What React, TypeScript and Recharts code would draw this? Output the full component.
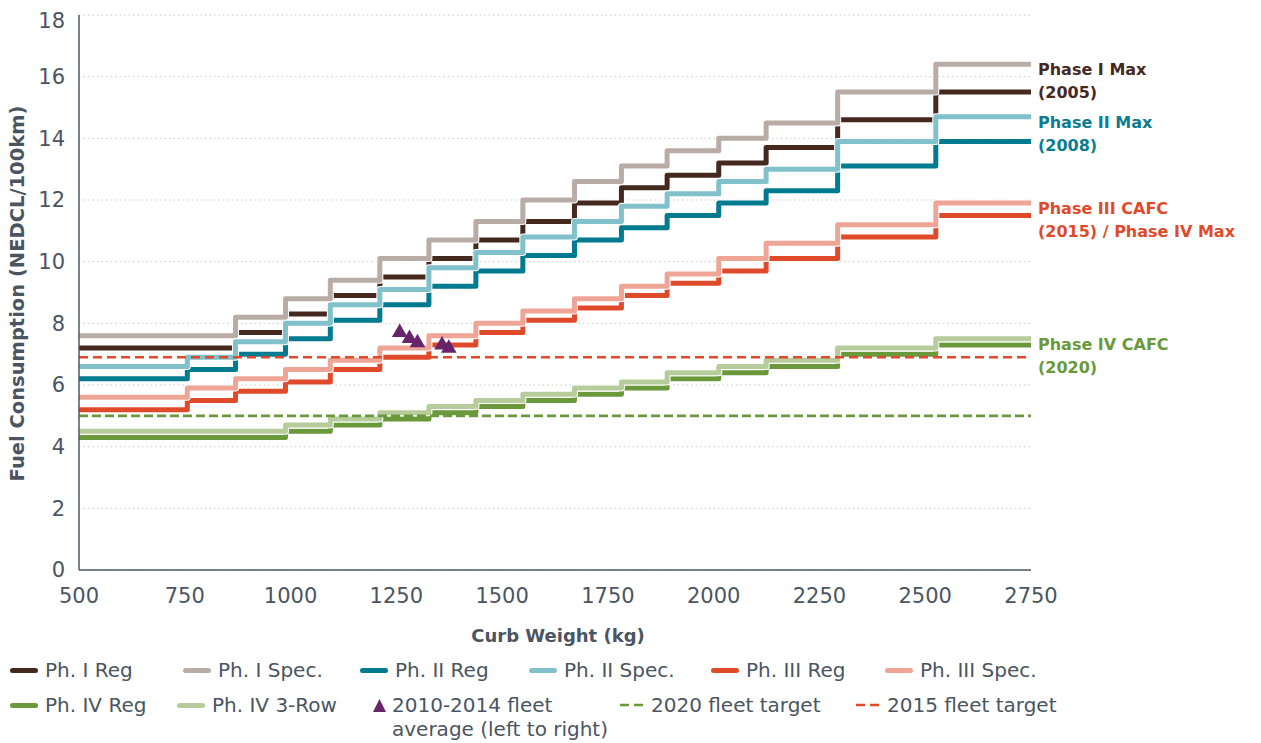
import React from "react";
import {
  ComposedChart,
  Line,
  Scatter,
  XAxis,
  YAxis,
  ZAxis,
  CartesianGrid,
  ReferenceLine,
  ReferenceDot,
  Label,
} from "recharts";

// weight class boundaries (kg); last entry closes the final step
const WEIGHT_BREAKS = [500, 756, 870, 988, 1094, 1211, 1327, 1438, 1549, 1671, 1782, 1890, 2012, 2124, 2293, 2525, 2750];

// L/100km per weight class
const P1_REG = [7.2, 7.2, 7.7, 8.3, 8.9, 9.5, 10.1, 10.7, 11.3, 11.9, 12.4, 12.8, 13.2, 13.7, 14.6, 15.5];
const P1_SPEC = [7.6, 7.6, 8.2, 8.8, 9.4, 10.1, 10.7, 11.3, 12.0, 12.6, 13.1, 13.6, 14.0, 14.5, 15.5, 16.4];
const P2_REG = [6.2, 6.5, 7.0, 7.5, 8.1, 8.6, 9.2, 9.7, 10.2, 10.7, 11.1, 11.5, 11.9, 12.3, 13.1, 13.9];
const P2_SPEC = [6.6, 6.9, 7.4, 8.0, 8.6, 9.1, 9.8, 10.3, 10.8, 11.3, 11.8, 12.2, 12.6, 13.0, 13.9, 14.7];
const P3_REG = [5.2, 5.5, 5.8, 6.1, 6.5, 6.9, 7.3, 7.7, 8.1, 8.5, 8.9, 9.3, 9.7, 10.1, 10.8, 11.5];
const P3_SPEC = [5.6, 5.9, 6.2, 6.5, 6.8, 7.2, 7.6, 8.0, 8.4, 8.8, 9.2, 9.6, 10.1, 10.6, 11.2, 11.9];
const P4_REG = [4.3, 4.3, 4.3, 4.5, 4.7, 4.9, 5.1, 5.3, 5.5, 5.7, 5.9, 6.2, 6.4, 6.6, 7.0, 7.3];
const P4_SPEC = [4.5, 4.5, 4.5, 4.7, 4.9, 5.1, 5.3, 5.5, 5.7, 5.9, 6.1, 6.4, 6.6, 6.8, 7.2, 7.5];

// 2010-2014 fleet averages, left to right
const FLEET_WEIGHT = [1258, 1281, 1300, 1358, 1374];
const FLEET_FC = [7.7, 7.51, 7.37, 7.3, 7.19];

const TARGET_2020 = 5.0;
const TARGET_2015 = 6.9;

const X_TICKS = [500, 750, 1000, 1250, 1500, 1750, 2000, 2250, 2500, 2750];
const Y_TICKS = [0, 2, 4, 6, 8, 10, 12, 14, 16, 18];

const FONT = "'DejaVu Sans', 'Open Sans', sans-serif";
const TEXT = "#4a5561";
const AXIS = "#4d5863";

const C = {
  p1r: "#45291e",
  p1s: "#b9aca6",
  p2r: "#007b8f",
  p2s: "#80c1cc",
  p3r: "#df4b2a",
  p3s: "#eea595",
  p4r: "#6a993b",
  p4s: "#b6cd9b",
  fleet: "#672469",
};

const SERIES = [
  { key: "p1r", values: P1_REG },
  { key: "p1s", values: P1_SPEC },
  { key: "p2r", values: P2_REG },
  { key: "p2s", values: P2_SPEC },
  { key: "p3r", values: P3_REG },
  { key: "p3s", values: P3_SPEC },
  { key: "p4r", values: P4_REG },
  { key: "p4s", values: P4_SPEC },
];

const table = WEIGHT_BREAKS.map((w, i) => {
  const row: any = { w };
  SERIES.forEach((s) => {
    row[s.key] = s.values[Math.min(i, s.values.length - 1)];
  });
  return row;
});

const fleet = FLEET_WEIGHT.map((w, i) => ({ w, fc: FLEET_FC[i] }));

const last = (a: number[]) => a[a.length - 1];
const X_MAX = last(X_TICKS);

const SIDE_LABELS = [
  { y: last(P1_SPEC), lines: ["Phase I Max", "(2005)"], color: C.p1r },
  { y: last(P2_SPEC), lines: ["Phase II Max", "(2008)"], color: "#0b7d90" },
  { y: last(P3_SPEC), lines: ["Phase III CAFC", "(2015) / Phase IV Max"], color: C.p3r },
  { y: last(P4_SPEC), lines: ["Phase IV CAFC", "(2020)"], color: C.p4r },
];

// legend layout (container coords)
const LEGEND = [
  { label: "Ph. I Reg", kind: "line", color: C.p1r, x: 2, row: 0 },
  { label: "Ph. I Spec.", kind: "line", color: C.p1s, x: 175, row: 0 },
  { label: "Ph. II Reg", kind: "line", color: C.p2r, x: 352, row: 0 },
  { label: "Ph. II Spec.", kind: "line", color: C.p2s, x: 521, row: 0 },
  { label: "Ph. III Reg", kind: "line", color: C.p3r, x: 703, row: 0 },
  { label: "Ph. III Spec.", kind: "line", color: C.p3s, x: 877, row: 0 },
  { label: "Ph. IV Reg", kind: "line", color: C.p4r, x: 2, row: 1 },
  { label: "Ph. IV 3-Row", kind: "line", color: C.p4s, x: 169, row: 1 },
  { label: "2010-2014 fleet|average (left to right)", kind: "tri", color: C.fleet, x: 365, row: 1 },
  { label: "2020 fleet target", kind: "dash", color: C.p4r, x: 612, row: 1 },
  { label: "2015 fleet target", kind: "dash", color: C.p3r, x: 848, row: 1 },
];
const ROW_Y = [650, 685];

const LegendIcon = ({ kind, color }: { kind: string; color: string }) => {
  if (kind === "line")
    return <div style={{ width: 28, height: 5, borderRadius: 3, background: color, marginRight: 7, flex: "none" }} />;
  if (kind === "tri")
    return (
      <svg width={13} height={13} style={{ marginRight: 6, flex: "none" }}>
        <polygon points="6.5,0 13,13 0,13" fill={color} />
      </svg>
    );
  return (
    <svg width={23} height={4} style={{ marginRight: 8, flex: "none" }}>
      <line x1={0} y1={2} x2={23} y2={2} stroke={color} strokeWidth={2.6} strokeDasharray="9 5" />
    </svg>
  );
};

const SideLabel = ({ viewBox, lines, color }: any) => {
  if (!viewBox) return null;
  const x = viewBox.x + 7;
  const y = viewBox.y;
  return (
    <text x={x} y={y + 11} fill={color} fontSize={16} fontWeight={700} fontFamily={FONT}>
      <tspan x={x} y={y + 11}>{lines[0]}</tspan>
      <tspan x={x} y={y + 34}>{lines[1]}</tspan>
    </text>
  );
};

export default function App() {
  return (
    <div style={{ position: "relative", width: 1245, height: 735, fontFamily: FONT }}>
      <ComposedChart
        width={1245}
        height={727}
        data={table}
        margin={{ top: 7, right: 222, bottom: 125, left: 0 }}
        style={{ fontFamily: FONT }}
      >
        <CartesianGrid vertical={false} stroke="#c8c8c8" strokeDasharray="1.5 3" />
        <XAxis
          type="number"
          dataKey="w"
          domain={[500, 2750]}
          ticks={X_TICKS}
          tickLine={false}
          tickSize={6}
          tickMargin={12}
          height={40}
          axisLine={{ stroke: AXIS, strokeWidth: 1.5 }}
          tick={{ fill: TEXT, fontSize: 21 }}
        >
          <Label
            content={({ viewBox }: any) =>
              viewBox ? (
                <text
                  x={viewBox.x + viewBox.width / 2 + 3}
                  y={viewBox.y + 72}
                  textAnchor="middle"
                  fill={TEXT}
                  fontSize={18}
                  fontWeight={700}
                >
                  Curb Weight (kg)
                </text>
              ) : null
            }
          />
        </XAxis>
        <YAxis
          type="number"
          domain={[0, 18]}
          ticks={Y_TICKS}
          width={71}
          tickLine={false}
          tickSize={6}
          tickMargin={8}
          axisLine={{ stroke: AXIS, strokeWidth: 1.5 }}
          tick={{ fill: TEXT, fontSize: 21 }}
        >
          <Label
            content={({ viewBox }: any) => {
              if (!viewBox) return null;
              const x = 16;
              const y = viewBox.y + viewBox.height / 2 + 1;
              return (
                <text
                  x={x}
                  y={y}
                  transform={`rotate(-90, ${x}, ${y})`}
                  textAnchor="middle"
                  fill={TEXT}
                  fontSize={19.5}
                  fontWeight={700}
                >
                  Fuel Consumption (NEDCL/100km)
                </text>
              );
            }}
          />
        </YAxis>
        <ZAxis range={[105, 105]} />
        {SERIES.flatMap((s) => [
          <Line
            key={s.key + "-halo"}
            dataKey={s.key}
            type="stepAfter"
            stroke="#ffffff"
            strokeWidth={7}
            strokeLinejoin="round"
            dot={false}
            activeDot={false}
            isAnimationActive={false}
          />,
          <Line
            key={s.key}
            dataKey={s.key}
            type="stepAfter"
            stroke={(C as any)[s.key]}
            strokeWidth={5}
            strokeLinejoin="round"
            dot={false}
            activeDot={false}
            isAnimationActive={false}
          />,
        ])}
        <ReferenceLine y={TARGET_2020} stroke={C.p4r} strokeWidth={2.6} strokeDasharray="9 4" />
        <ReferenceLine y={TARGET_2015} stroke={C.p3r} strokeWidth={2.6} strokeDasharray="9 5" />
        <Scatter data={fleet} dataKey="fc" shape="triangle" fill={C.fleet} isAnimationActive={false} />
        {SIDE_LABELS.map((l) => (
          <ReferenceDot
            key={l.lines[0]}
            x={X_MAX}
            y={l.y}
            r={0}
            fill="none"
            stroke="none"
            label={{ content: (p: any) => <SideLabel viewBox={p.viewBox} lines={l.lines} color={l.color} /> }}
          />
        ))}
      </ComposedChart>
      {LEGEND.map((item) => {
        const parts = item.label.split("|");
        return (
          <div
            key={item.label}
            style={{
              position: "absolute",
              left: item.x,
              top: ROW_Y[item.row],
              display: "flex",
              alignItems: parts.length > 1 ? "flex-start" : "center",
              color: TEXT,
              fontSize: 20,
              lineHeight: "24px",
              whiteSpace: "nowrap",
            }}
          >
            <div style={{ height: 24, display: "flex", alignItems: "center" }}>
              <LegendIcon kind={item.kind} color={item.color} />
            </div>
            <div>
              {parts.map((p) => (
                <div key={p}>{p}</div>
              ))}
            </div>
          </div>
        );
      })}
    </div>
  );
}
